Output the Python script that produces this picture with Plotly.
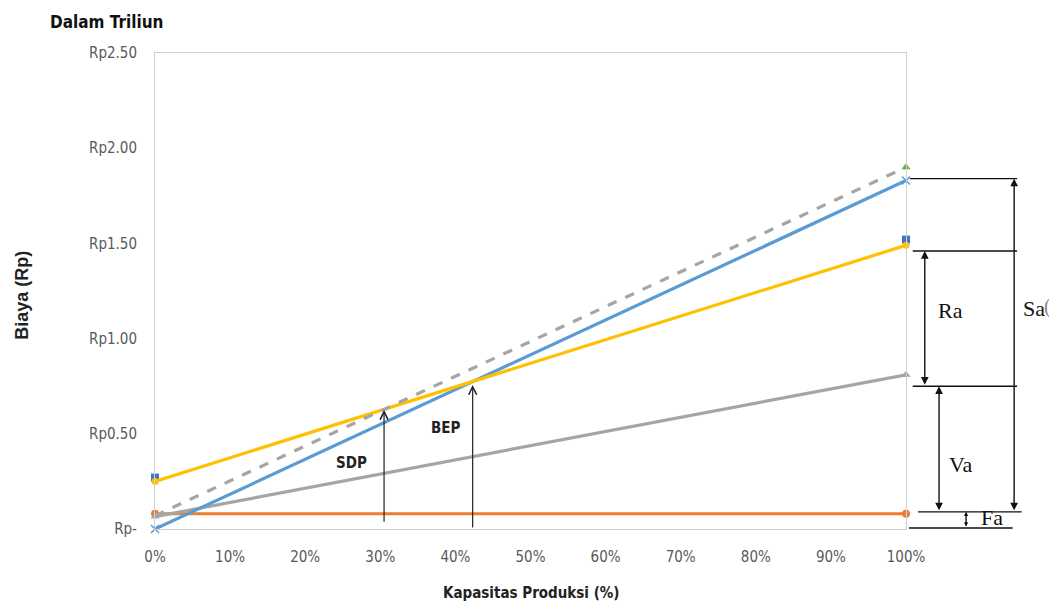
import plotly.graph_objects as go

# ---- data ----
capacity_pct = [0, 100]
fixed_cost = [0.08, 0.08]            # orange
variable_cost = [0.065, 0.81]        # gray solid
total_cost = [0.25, 1.49]            # yellow
total_cost_pts = [0.27, 1.52]        # blue square markers
sales = [0.0, 1.83]                  # light blue
sales_dashed = [0.07, 1.90]          # gray dashed (green triangle at end)

y_tickvals = [0, 0.5, 1.0, 1.5, 2.0, 2.5]
y_ticktext = ["Rp-", "Rp0.50", "Rp1.00", "Rp1.50", "Rp2.00", "Rp2.50"]
x_tickvals = [0, 10, 20, 30, 40, 50, 60, 70, 80, 90, 100]
x_ticktext = ["0%", "10%", "20%", "30%", "40%", "50%", "60%", "70%", "80%", "90%", "100%"]

# annotation levels
sdp_x, sdp_y = 30.5, 0.625
bep_x, bep_y = 42.3, 0.756
sdp_base, bep_base = 0.03, 0.0
sa_top, ra_top, ra_bottom, va_bottom, base_level = 1.84, 1.46, 0.75, 0.09, 0.005

NARROW = "DejaVu Sans Condensed, Liberation Sans Narrow, sans-serif"
SERIF = "Liberation Serif, Times New Roman, serif"

fig = go.Figure()

def add(y, mode, line=None, marker=None, x=capacity_pct):
    fig.add_trace(go.Scatter(x=x, y=y, mode=mode, line=line, marker=marker,
                             cliponaxis=False, showlegend=False))

add(total_cost_pts, "markers", marker=dict(symbol="square", size=8, color="#4472C4"))
add(fixed_cost, "lines+markers", line=dict(color="#ED7D31", width=3.2),
    marker=dict(symbol="circle", size=8, color="#ED7D31"))
add(variable_cost, "lines+markers", line=dict(color="#A5A5A5", width=3.2),
    marker=dict(symbol="triangle-up", size=8, color="#A5A5A5"))
add(sales, "lines+markers", line=dict(color="#5B9BD5", width=3.2),
    marker=dict(symbol="x-thin", size=8, color="#5B9BD5", line=dict(color="#5B9BD5", width=1.5)))
add(total_cost, "lines+markers", line=dict(color="#FFC000", width=3.2),
    marker=dict(symbol="circle", size=7, color="#FFC000"))
add(sales_dashed, "lines", line=dict(color="#A5A5A5", width=3.2, dash="dash"))
add(sales_dashed[-1:], "markers", marker=dict(symbol="triangle-up", size=8, color="#70AD47"),
    x=capacity_pct[-1:])

anns = []
# SDP / BEP arrows
for xv, yv, yb in [(sdp_x, sdp_y, sdp_base), (bep_x, bep_y, bep_base)]:
    anns.append(dict(x=xv, y=yv, xref="x", yref="y", ax=xv, ay=yb,
                     axref="x", ayref="y", text="", showarrow=True, arrowhead=5,
                     arrowsize=1.3, arrowwidth=1.2, arrowcolor="#222222"))
anns.append(dict(x=26.2, y=0.347, xref="x", yref="y", text="<b>SDP</b>", showarrow=False,
                 font=dict(family=NARROW, size=15, color="#222222")))
anns.append(dict(x=38.7, y=0.53, xref="x", yref="y", text="<b>BEP</b>", showarrow=False,
                 font=dict(family=NARROW, size=15, color="#222222")))

# right-hand double arrows
def dbl(xp, y1, y2, size=1.1):
    return dict(x=xp, y=y1, xref="paper", yref="y", ax=0, ay=y2, axref="pixel", ayref="y",
                text="", showarrow=True, arrowhead=2, arrowside="end+start",
                arrowsize=size, arrowwidth=1.4, arrowcolor="#111111")

anns.append(dbl(1.144, sa_top, va_bottom))
anns.append(dbl(1.025, ra_top, ra_bottom))
anns.append(dbl(1.044, ra_bottom, va_bottom))
anns.append(dbl(1.080, va_bottom, base_level, size=0.6))

for txt, xp, yv in [("Ra", 1.0586, 1.145), ("Sa", 1.170, 1.16), ("Va", 1.072, 0.34), ("Fa", 1.115, 0.058)]:
    anns.append(dict(x=xp, y=yv, xref="paper", yref="y", text=txt, showarrow=False,
                     xanchor="center", yanchor="middle",
                     font=dict(family=SERIF, size=22, color="#111111")))
anns.append(dict(x=1.181, y=1.17, xref="paper", yref="y", text="(", showarrow=False,
                 xanchor="left", yanchor="middle", font=dict(family=SERIF, size=20, color="#888888")))

# titles
anns.append(dict(x=-0.065, y=1.065, xref="paper", yref="paper", text="<b>Dalam Triliun</b>",
                 xanchor="center", yanchor="middle",
                 showarrow=False, font=dict(family=NARROW, size=17, color="#111111")))
anns.append(dict(x=-0.177, y=0.49, xref="paper", yref="paper", text="<b>Biaya (Rp)</b>",
                 textangle=-90, showarrow=False, xanchor="center", yanchor="middle",
                 font=dict(family="Liberation Sans, Arial, sans-serif", size=18, color="#222222")))
anns.append(dict(x=0.5007, y=-0.134, xref="paper", yref="paper", text="<b>Kapasitas Produksi (%)</b>",
                 xanchor="center", yanchor="middle",
                 showarrow=False, font=dict(family=NARROW, size=15, color="#222222")))

shapes = []
for x0, x1, yv in [(1.005, 1.148, sa_top), (1.009, 1.148, ra_top), (1.009, 1.148, ra_bottom),
                   (1.016, 1.154, va_bottom), (1.004, 1.142, base_level)]:
    shapes.append(dict(type="line", xref="paper", yref="y", x0=x0, x1=x1, y0=yv, y1=yv,
                       line=dict(color="#111111", width=1.4)))

fig.update_layout(
    width=1041, height=596,
    margin=dict(l=147, r=143, t=45, b=75),
    paper_bgcolor="white", plot_bgcolor="white",
    annotations=anns, shapes=shapes,
    xaxis=dict(range=[0, 100], tickvals=x_tickvals, ticktext=x_ticktext,
               showgrid=False, zeroline=False, showline=True, mirror=True,
               linecolor="#D0D0D0", linewidth=1, ticks="", ticklabelstandoff=14,
               tickfont=dict(family=NARROW, size=15, color="#595959")),
    yaxis=dict(range=[0, 2.5], tickvals=y_tickvals, ticktext=y_ticktext,
               showgrid=False, zeroline=False, showline=True, mirror=True,
               linecolor="#D0D0D0", linewidth=1, ticks="", ticklabelstandoff=14,
               tickfont=dict(family=NARROW, size=15, color="#595959")),
)

fig.write_html("out.html")
